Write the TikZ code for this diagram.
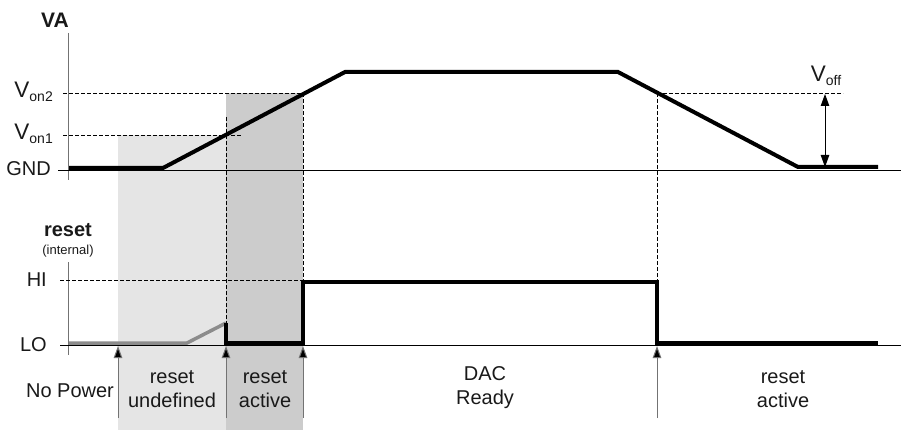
\documentclass[tikz,border=0pt]{standalone}
\usepackage{fontspec}
\setmainfont{Liberation Sans}
\usetikzlibrary{arrows.meta}
\newcommand{\lowidx}[1]{\raisebox{-4.5pt}{\fontsize{14}{14}\selectfont #1}}
\begin{document}
\begin{tikzpicture}[x=1pt,y=-1pt,
  lbl/.style={font=\fontsize{20}{24}\selectfont, inner sep=0pt, text=black!90},
  vlbl/.style={font=\fontsize{22.5}{24}\selectfont, inner sep=0pt, text=black!90},
  twoline/.style={lbl, align=center},
  lightg/.style={fill=black!10},
  darkg/.style={fill=black!20},
  axisline/.style={draw=black!55, line width=1pt},
  refline/.style={draw=black, line width=0.9pt},
  dashline/.style={draw=black, line width=0.9pt, dash pattern=on 4pt off 2pt},
  sig/.style={draw=black, line width=4pt},
  undef/.style={draw=black!45, line width=3.5pt},
  evarrow/.style={draw=black!55, line width=1pt, -{Triangle[length=12pt,width=8.5pt,fill=black]}},
  dimarrow/.style={draw=black, line width=0.9pt, {Triangle[length=12pt,width=8.5pt]}-{Triangle[length=12pt,width=8.5pt]}}
]
\useasboundingbox (0,0) rectangle (901,430);
% shaded phases
\fill[lightg] (118,135) rectangle (226,430);
\fill[darkg] (226,93) rectangle (303,430);
% axes
\draw[axisline] (68,33) -- (68,180);
\draw[axisline] (68,262) -- (68,355);
\draw[refline] (58,170) -- (901,170);
\draw[refline] (60,345) -- (901,345);
% dashed reference levels
\draw[dashline] (63,93) -- (303,93);
\draw[dashline] (63,135) -- (242,135);
\draw[dashline] (60,280) -- (303,280);
\draw[dashline] (657,93) -- (843,93);
\draw[dashline] (226,117) -- (226,323);
\draw[dashline] (303,93) -- (303,282);
\draw[dashline] (657,93) -- (657,283);
% coordinates
\coordinate (va0) at (69,168);
\coordinate (va1) at (163,168);
\coordinate (va2) at (345,72);
\coordinate (va3) at (618,72);
\coordinate (va4) at (798,167);
\coordinate (va5) at (878,167);
\coordinate (ru0) at (69,343);
\coordinate (ru1) at (187,343);
\coordinate (ru2) at (226,323);
\coordinate (rs1) at (226,343);
\coordinate (rs2) at (303,343);
\coordinate (rs3) at (303,282);
\coordinate (rs4) at (657,282);
\coordinate (rs5) at (657,343);
\coordinate (rs6) at (878,343);
% signals
\draw[sig] (va0) -- (va1) -- (va2) -- (va3) -- (va4) -- (va5);
\draw[undef] (ru0) -- (ru1) -- (ru2);
\draw[sig] (ru2) -- (rs1) -- (rs2) -- (rs3) -- (rs4) -- (rs5) -- (rs6);
% event arrows
\coordinate (e1b) at (118,418); \coordinate (e1t) at (118,346);
\coordinate (e2b) at (226,418); \coordinate (e2t) at (226,346);
\coordinate (e3b) at (303,418); \coordinate (e3t) at (303,346);
\coordinate (e4b) at (657,418); \coordinate (e4t) at (657,346);
\draw[evarrow] (e1b) -- (e1t);
\draw[evarrow] (e2b) -- (e2t);
\draw[evarrow] (e3b) -- (e3t);
\draw[evarrow] (e4b) -- (e4t);
% Voff dimension
\coordinate (vofft) at (825,94);
\coordinate (voffb) at (825,167);
\draw[dimarrow] (vofft) -- (voffb);
% labels
\node[lbl, font=\fontsize{21}{24}\selectfont\bfseries] (va) at (55,20) {VA};
\node[vlbl, anchor=east] (von2) at (53,92) {V\lowidx{on2}};
\node[vlbl, anchor=east] (von1) at (53,134) {V\lowidx{on1}};
\node[lbl, anchor=east] (gnd) at (51,169) {GND};
\node[vlbl] (voff) at (826,76) {V\lowidx{off}};
\node[lbl, font=\fontsize{20}{24}\selectfont\bfseries] (rst) at (68,230) {reset};
\node[lbl, font=\fontsize{13}{15}\selectfont] (internal) at (68,251) {(internal)};
\node[lbl, anchor=east] (hi) at (47,280) {HI};
\node[lbl, anchor=east] (lo) at (47,345) {LO};
\node[twoline] (nopower) at (70,391) {No Power};
\node[twoline] (undefined) at (172,389) {reset\\undefined};
\node[twoline] (active1) at (265,389) {reset\\active};
\node[twoline] (dac) at (485,388) {DAC\\Ready};
\node[twoline] (active2) at (783,389) {reset\\active};
\end{tikzpicture}
\end{document}
